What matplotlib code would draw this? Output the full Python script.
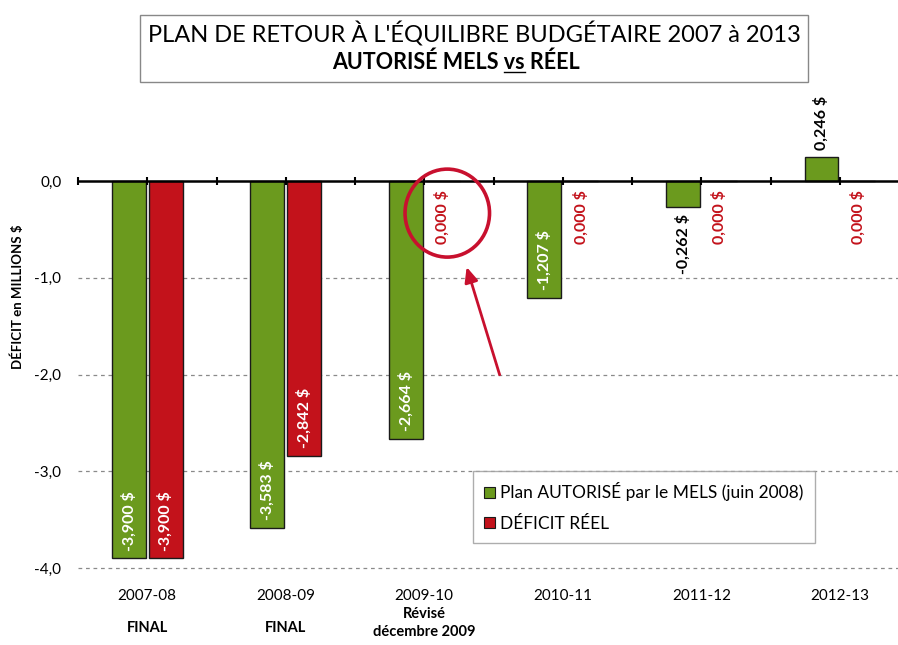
import matplotlib
matplotlib.use("Agg")
import matplotlib.pyplot as plt
import numpy as np
from matplotlib.patches import Rectangle, Ellipse, Patch
from matplotlib.lines import Line2D

plt.rcParams['font.family'] = ['Lato', 'DejaVu Sans']

# données (millions $)
categories = ['2007-08', '2008-09', '2009-10', '2010-11', '2011-12', '2012-13']
sublabels = ['FINAL', 'FINAL', 'Révisé\ndécembre 2009', '', '', '']
plan_mels = [-3.900, -3.583, -2.664, -1.207, -0.262, 0.246]
deficit_reel = [-3.900, -2.842, 0.000, 0.000, 0.000, 0.000]
yticks = [0, -1, -2, -3, -4]

GREEN = '#6b9a1e'
RED = '#c3121b'
LBL = 11.5


def fmt(v):
    return ('%.3f $' % v).replace('.', ',')


fig = plt.figure(figsize=(8.98, 6.45), dpi=100)
ax = fig.add_axes([78 / 898, 0.112, 1 - 78 / 898, 0.682])

x = np.arange(len(categories))
w = 0.245
off = 0.1325
ax.bar(x - off, plan_mels, w, color=GREEN, edgecolor='#1a1a1a', linewidth=1.0, zorder=3)
ax.bar(x + off, deficit_reel, w, color=RED, edgecolor='#1a1a1a', linewidth=1.0, zorder=3)

ax.set_xlim(-0.5, 5.42)
ax.set_ylim(-4.05, 0.5)

# grille pointillée
for yv in yticks[1:]:
    ax.axhline(yv, color='#8a8a8a', lw=0.9, ls=(0, (3, 3)), zorder=1)
# axe à 0
ax.axhline(0, color='black', lw=1.8, zorder=4)
ticks = np.arange(-0.5, 5.6, 0.5)
ax.plot(ticks, np.zeros_like(ticks), ls='none', marker='|', ms=6, mew=1.5,
        color='black', zorder=4, clip_on=False)

for s in ax.spines.values():
    s.set_visible(False)
ax.set_yticks(yticks)
ax.set_yticklabels([('%.1f' % v).replace('.', ',') for v in yticks], fontsize=11)
ax.tick_params(axis='y', length=0, pad=12)
ax.set_xticks(x)
ax.set_xticklabels(categories, fontsize=11)
ax.tick_params(axis='x', length=0, pad=12)

for i, sub in enumerate(sublabels):
    if sub:
        yy = -0.114 if '\n' in sub else -0.125
        ax.text(i, yy, sub, transform=ax.get_xaxis_transform(), ha='center', va='center',
                fontsize=10.5, fontweight='bold', linespacing=1.3)

# étiquettes des barres
for i, v in enumerate(plan_mels):
    xi = i - off
    if v <= -0.5:
        ax.text(xi, v + 0.08, fmt(v), rotation=90, ha='center', va='bottom',
                color='white', fontsize=LBL, fontweight='bold', zorder=5)
    elif v < 0:
        ax.text(xi, v - 0.08, fmt(v), rotation=90, ha='center', va='top',
                color='black', fontsize=LBL, fontweight='bold', zorder=5)
    else:
        ax.text(xi, v + 0.08, fmt(v), rotation=90, ha='center', va='bottom',
                color='black', fontsize=LBL, fontweight='bold', zorder=5)
for i, v in enumerate(deficit_reel):
    xi = i + off
    if v < -0.5:
        ax.text(xi, v + 0.08, fmt(v), rotation=90, ha='center', va='bottom',
                color='white', fontsize=LBL, fontweight='bold', zorder=5)
    else:
        ax.text(xi, v - 0.09, fmt(v), rotation=90, ha='center', va='top',
                color=RED, fontsize=LBL, fontweight='bold', zorder=5)

# cercle + flèche sur 2009-10
ax.add_patch(Ellipse((2.166, -0.33), 0.61, 0.91, fill=False, edgecolor='#c8102e', lw=2.6, zorder=6))
ax.annotate('', xy=(2.30, -0.86), xytext=(2.55, -2.03),
            arrowprops=dict(arrowstyle='-|>,head_length=0.9,head_width=0.4', color='#c8102e', lw=2.0))

# légende
handles = [Patch(facecolor=GREEN, edgecolor='#1a1a1a', lw=0.8),
           Patch(facecolor=RED, edgecolor='#1a1a1a', lw=0.8)]
leg = ax.legend(handles, ['Plan AUTORISÉ par le MELS (juin 2008)', 'DÉFICIT RÉEL'],
                loc='upper left', bbox_to_anchor=((473 - 78) / 820, (645 - 471 - 72.2) / 440),
                fontsize=12.5, frameon=True, fancybox=False, handlelength=0.6, handleheight=0.6,
                handletextpad=0.3, labelspacing=0.85, borderpad=0.65, borderaxespad=0)
leg.get_frame().set_edgecolor('#999999')
leg.get_frame().set_linewidth(1.0)

# axe y titre
fig.text(17 / 898, 1 - 297 / 645, 'DÉFICIT en MILLIONS $', rotation=90, ha='center', va='center',
         fontsize=9.5, fontweight='bold')

# titre encadré
fig.add_artist(Rectangle((140 / 898, 1 - 82 / 645), 668 / 898, 67 / 645, transform=fig.transFigure,
                         fill=False, edgecolor='#888888', lw=1.0))
fig.text(474 / 898, 1 - 34 / 645, "PLAN DE RETOUR À L'ÉQUILIBRE BUDGÉTAIRE 2007 à 2013",
         ha='center', va='center', fontsize=17)
SUB = 15.5
t1 = fig.text(456 / 898, 1 - 62 / 645, 'AUTORISÉ MELS vs RÉEL', ha='center', va='center',
              fontsize=SUB, fontweight='bold')

# soulignement de "vs"
fig.canvas.draw()
r = fig.canvas.get_renderer()
bb = t1.get_window_extent(r)
tmp = fig.text(0, 0, 'AUTORISÉ MELS ', fontsize=SUB, fontweight='bold')
wa = tmp.get_window_extent(r).width
tmp.set_text('AUTORISÉ MELS vs')
wb = tmp.get_window_extent(r).width
tmp.remove()
yl = bb.y0 + 1
fig.add_artist(Line2D([bb.x0 + wa, bb.x0 + wb], [yl, yl], transform=None, color='black', lw=1.0))

fig.savefig('out.png', dpi=100)
